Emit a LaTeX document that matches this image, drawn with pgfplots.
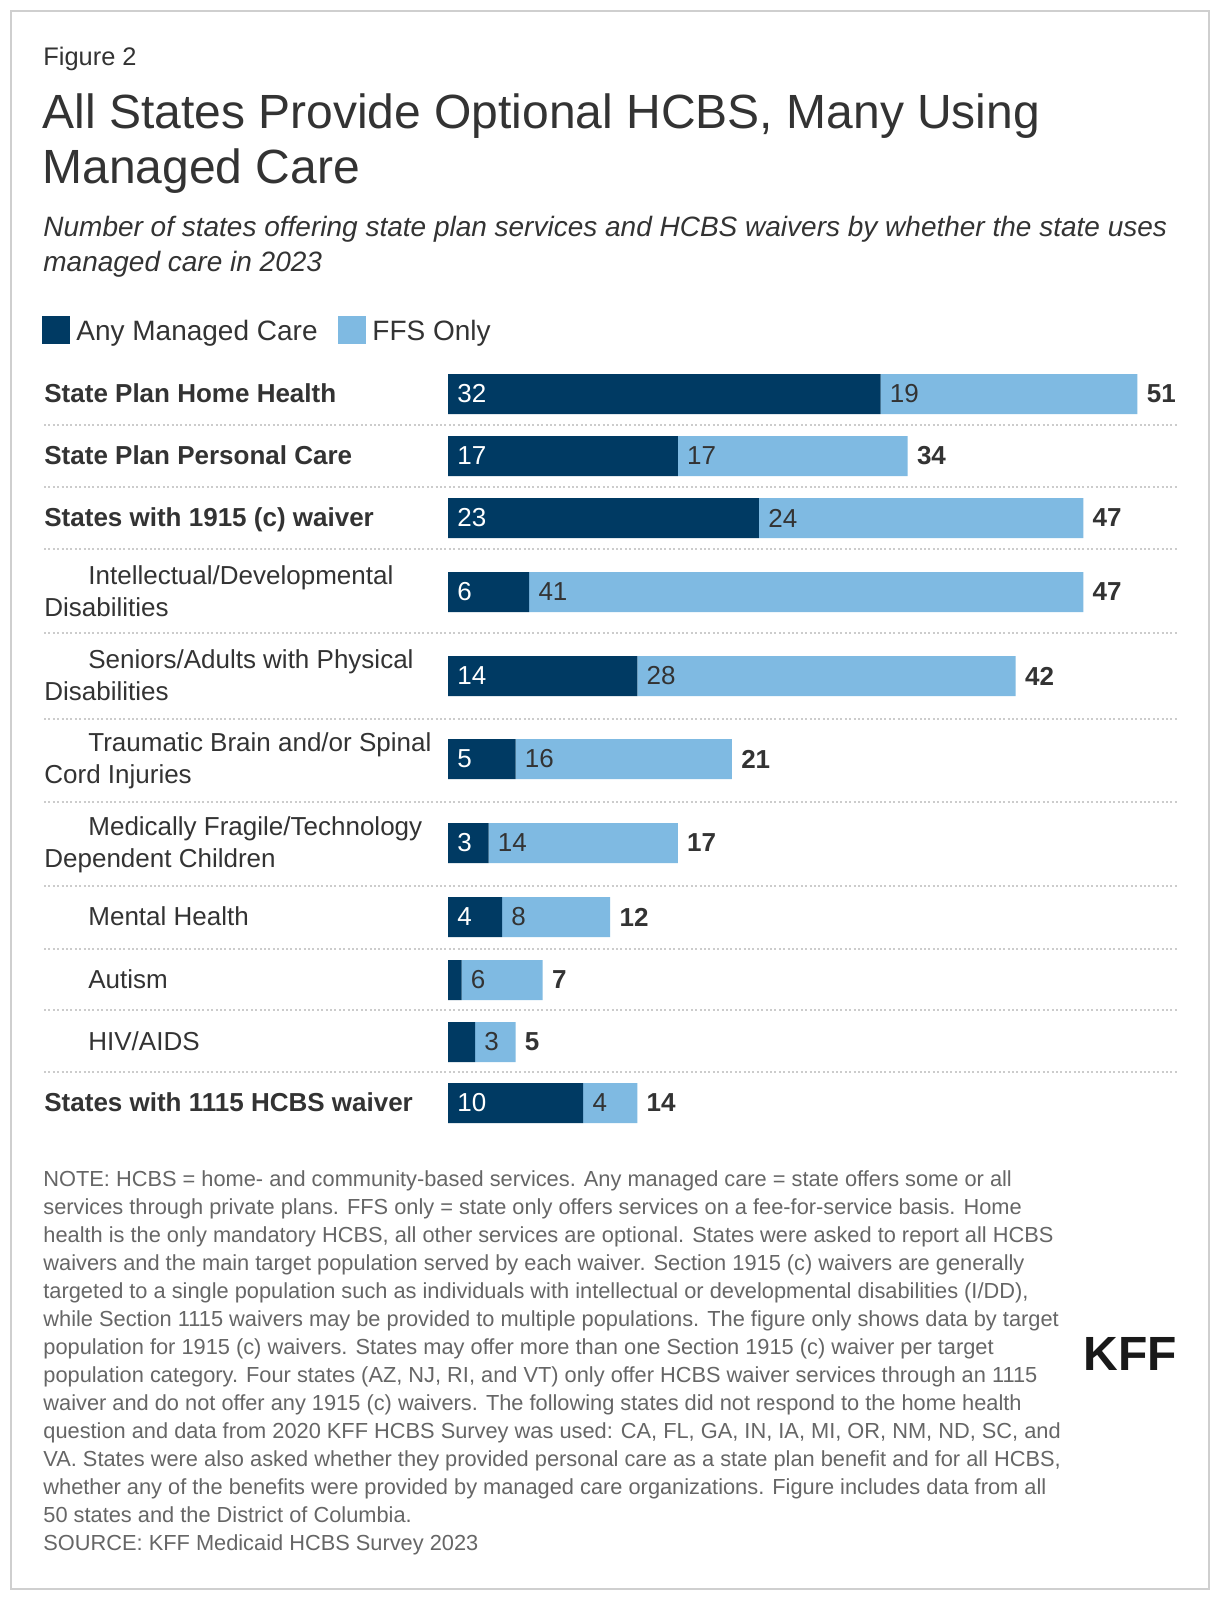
\documentclass[border=0pt]{standalone}
\usepackage{fontspec}
\setmainfont{Liberation Sans}
\usepackage{pgfplots}
\usepackage{pgfplotstable}
\pgfplotsset{compat=1.18}

\definecolor{dkblue}{HTML}{003A63}
\definecolor{ltblue}{HTML}{7FBAE2}
\definecolor{txt}{HTML}{333333}
\definecolor{notec}{HTML}{666666}
\definecolor{sepc}{HTML}{CCCCCC}
\definecolor{framec}{HTML}{CFCFCF}

\pgfplotstableread{
y mc ffs total
-394 32 19 51
-456 17 17 34
-518 23 24 47
-592 6 41 47
-676 14 28 42
-759 5 16 21
-843 3 14 17
-917 4 8 12
-980 1 6 7
-1042 2 3 5
-1103 10 4 14
}\hcbs

\pgfplotsset{kffaxis/.style={
  at={(224pt,-565pt)}, anchor=south west, scale only axis,
  width=344.7pt, height=380pt, xmin=0, xmax=51, ymin=-1130, ymax=-370,
  hide axis, clip=false}}

\tikzset{lab/.style={anchor=base west, inner sep=0pt, text=txt, font=\fontsize{13}{15}\selectfont},
         blab/.style={lab, font=\fontsize{13}{15}\selectfont\bfseries},
         nl/.style={anchor=base west, inner sep=0pt, text=notec, font=\fontsize{10.9}{13}\selectfont}}

\begin{document}
\begin{tikzpicture}[x=0.5pt,y=-0.5pt]
\path[use as bounding box] (0,0) rectangle (1220,1600);
\fill[white] (0,0) rectangle (1220,1600);
\draw[framec, line width=1pt] (11,11) rectangle (1209,1589);

% titles
\node[anchor=base west, inner sep=0pt, text=txt, font=\fontsize{12.7}{15}\selectfont] at (43,66) {Figure 2};
\node[anchor=base west, inner sep=0pt, text=txt, font=\fontsize{24}{28}\selectfont] at (42,128) {All States Provide Optional HCBS, Many Using};
\node[anchor=base west, inner sep=0pt, text=txt, font=\fontsize{24}{28}\selectfont] at (42,184) {Managed Care};
\node[anchor=base west, inner sep=0pt, text=txt, font=\fontsize{14}{17}\selectfont\itshape] at (43,236) {Number of states offering state plan services and HCBS waivers by whether the state uses};
\node[anchor=base west, inner sep=0pt, text=txt, font=\fontsize{14}{17}\selectfont\itshape] at (43,271) {managed care in 2023};

% legend
\fill[dkblue] (42,316) rectangle (70,344);
\node[anchor=base west, inner sep=0pt, text=txt, font=\fontsize{14}{17}\selectfont] at (76,340) {Any Managed Care};
\fill[ltblue] (338,316) rectangle (366,344);
\node[anchor=base west, inner sep=0pt, text=txt, font=\fontsize{14}{17}\selectfont] at (372,340) {FFS Only};

% separators
\foreach \yy in {425,487,549,633,719,802,886,949,1010,1072}
  \draw[sepc, line width=1pt, dash pattern=on 1pt off 1.2pt] (44,\yy) -- (1177,\yy);

% category labels
\node[blab] at (44,402.5) {State Plan Home Health};
\node[blab] at (44,464.5) {State Plan Personal Care};
\node[blab] at (44,526.5) {States with 1915 (c) waiver};
\node[lab] at (88,584) {Intellectual/Developmental};
\node[lab] at (44,616) {Disabilities};
\node[lab] at (88,668) {Seniors/Adults with Physical};
\node[lab] at (44,700) {Disabilities};
\node[lab] at (88,751) {Traumatic Brain and/or Spinal};
\node[lab] at (44,783) {Cord Injuries};
\node[lab] at (88,835) {Medically Fragile/Technology};
\node[lab] at (44,867) {Dependent Children};
\node[lab] at (88,925.5) {Mental Health};
\node[lab] at (88,988.5) {Autism};
\node[lab] at (88,1050.5) {HIV/AIDS};
\node[blab] at (44,1111.5) {States with 1115 HCBS waiver};

% bars
\begin{axis}[kffaxis, xbar stacked, bar width=20pt]
\addplot[fill=dkblue, draw=none] table[x=mc, y=y] {\hcbs};
\addplot[fill=ltblue, draw=none] table[x=ffs, y=y] {\hcbs};
\end{axis}

% value labels
\begin{axis}[kffaxis]
\addplot[draw=none, mark=none, nodes near coords, point meta=explicit symbolic,
  every node near coord/.append style={anchor=west, inner sep=0pt, xshift=4.5pt, text=white, font=\fontsize{13}{15}\selectfont}]
  coordinates {(0,-394)[32] (0,-456)[17] (0,-518)[23] (0,-592)[6] (0,-676)[14] (0,-759)[5] (0,-843)[3] (0,-917)[4] (0,-1103)[10]};
\addplot[draw=none, mark=none, nodes near coords, point meta=explicit symbolic,
  every node near coord/.append style={anchor=west, inner sep=0pt, xshift=4.5pt, text=txt, font=\fontsize{13}{15}\selectfont}]
  table[x=mc, y=y, meta=ffs] {\hcbs};
\addplot[draw=none, mark=none, nodes near coords, point meta=explicit symbolic,
  every node near coord/.append style={anchor=west, inner sep=0pt, xshift=4.5pt, text=txt, font=\fontsize{13}{15}\selectfont\bfseries}]
  table[x=total, y=y, meta=total] {\hcbs};
\end{axis}

% notes
\node[nl] at (43,1186) {NOTE: HCBS = home- and community-based services. Any managed care = state offers some or all};
\node[nl] at (43,1214) {services through private plans. FFS only = state only offers services on a fee-for-service basis. Home};
\node[nl] at (43,1242) {health is the only mandatory HCBS, all other services are optional. States were asked to report all HCBS};
\node[nl] at (43,1270) {waivers and the main target population served by each waiver. Section 1915 (c) waivers are generally};
\node[nl] at (43,1298) {targeted to a single population such as individuals with intellectual or developmental disabilities (I/DD),};
\node[nl] at (43,1326) {while Section 1115 waivers may be provided to multiple populations. The figure only shows data by target};
\node[nl] at (43,1354) {population for 1915 (c) waivers. States may offer more than one Section 1915 (c) waiver per target};
\node[nl] at (43,1382) {population category. Four states (AZ, NJ, RI, and VT) only offer HCBS waiver services through an 1115};
\node[nl] at (43,1410) {waiver and do not offer any 1915 (c) waivers. The following states did not respond to the home health};
\node[nl] at (43,1438) {question and data from 2020 KFF HCBS Survey was used: CA, FL, GA, IN, IA, MI, OR, NM, ND, SC, and};
\node[nl] at (43,1466) {VA. States were also asked whether they provided personal care as a state plan benefit and for all HCBS,};
\node[nl] at (43,1494) {whether any of the benefits were provided by managed care organizations. Figure includes data from all};
\node[nl] at (43,1522) {50 states and the District of Columbia.};
\node[nl] at (43,1550) {SOURCE: KFF Medicaid HCBS Survey 2023};

% logo
\node[anchor=base west, inner sep=0pt, text=black!90, font=\fontsize{24}{26}\selectfont\bfseries] at (1083,1370) {KFF};
\end{tikzpicture}
\end{document}
